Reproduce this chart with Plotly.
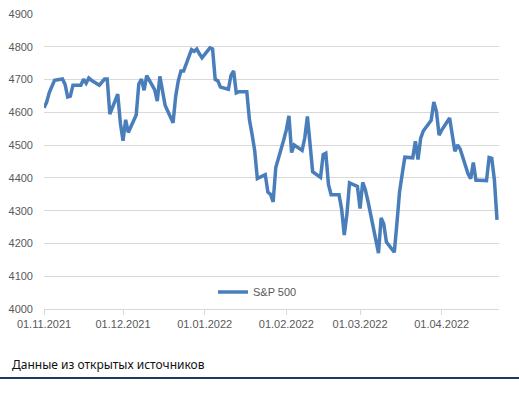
import pandas as pd
import plotly.graph_objects as go

# Trading weekdays from 01.11.2021 to 22.04.2022 (holidays carry the previous close)
start_date = "2021-11-01"
end_date = "2022-04-22"
dates = pd.bdate_range(start_date, end_date)

nov = [4613.67, 4630.65, 4660.57, 4680.06, 4697.53,
       4701.70, 4685.25, 4646.71, 4649.27, 4682.85,
       4682.80, 4700.90, 4688.67, 4704.54, 4697.96,
       4682.94, 4690.70, 4701.46, 4701.46, 4594.62,
       4655.27, 4567.00]
dec = [4513.04, 4577.10, 4538.43,
       4591.67, 4686.75, 4701.21, 4667.45, 4712.02,
       4668.97, 4634.09, 4709.85, 4668.67, 4620.64,
       4568.02, 4649.23, 4696.56, 4725.79, 4725.79,
       4791.19, 4786.35, 4793.06, 4778.73, 4766.18]
jan = [4796.56, 4793.54, 4700.58, 4696.05, 4677.03,
       4670.29, 4713.07, 4726.35, 4659.03, 4662.85,
       4662.85, 4577.11, 4532.76, 4482.73, 4397.94,
       4410.13, 4356.45, 4349.93, 4326.51, 4431.85,
       4515.55]
feb = [4546.54, 4589.38, 4477.44, 4500.53,
       4483.87, 4521.54, 4587.18, 4504.08, 4418.64,
       4401.67, 4471.07, 4475.01, 4380.26, 4348.87,
       4348.87, 4304.76, 4225.50, 4288.70, 4384.65,
       4373.94]
mar = [4306.26, 4386.54, 4363.49, 4328.87,
       4201.09, 4170.70, 4277.88, 4259.52, 4204.31,
       4173.11, 4262.45, 4357.86, 4411.67, 4463.12,
       4461.18, 4511.61, 4456.24, 4520.16, 4543.06,
       4575.52, 4631.60, 4602.45, 4530.41]
apr = [4545.86,
       4582.64, 4525.12, 4481.15, 4500.21, 4488.28,
       4412.53, 4397.45, 4446.59, 4392.59, 4392.59,
       4391.69, 4462.21, 4459.45, 4393.66, 4271.78]
sp500 = nov + dec + jan + feb + mar + apr

tick_dates = ["2021-11-01", "2021-12-01", "2022-01-01", "2022-02-01", "2022-03-01", "2022-04-01"]
tick_labels = ["01.11.2021", "01.12.2021", "01.01.2022", "01.02.2022", "01.03.2022", "01.04.2022"]
y_ticks = [4000, 4100, 4200, 4300, 4400, 4500, 4600, 4700, 4800, 4900]

series_name = "S&P 500"
source_text = "Данные из открытых источников"

W, H = 519, 396
ML, MR, MT, MB = 44, 20, 14, 87
PW = W - ML - MR
PH = H - MT - MB

fig = go.Figure()
fig.add_trace(go.Scatter(
    x=dates, y=sp500, mode="lines", name=series_name,
    line=dict(color="#4A7EBB", width=3.5),
    hoverinfo="skip",
))

grey_txt = "#595959"
fig.update_layout(
    width=W, height=H,
    margin=dict(l=ML, r=MR, t=MT, b=MB, pad=0, autoexpand=False),
    paper_bgcolor="white", plot_bgcolor="white",
    font=dict(family="Liberation Sans, Arial, sans-serif", size=11, color=grey_txt),
    showlegend=True,
    legend=dict(
        orientation="h", x=(213 - ML) / PW, y=(MT + PH - 292) / PH,
        xanchor="left", yanchor="middle",
        bgcolor="rgba(0,0,0,0)", font=dict(size=11, color=grey_txt),
    ),
    xaxis=dict(
        type="date", automargin=False,
        range=["2021-11-01", "2022-04-22 18:00"],
        tickvals=tick_dates, ticktext=tick_labels,
        showgrid=False, zeroline=False,
        showline=True, linecolor="#D9D9D9", linewidth=1,
        ticks="outside", ticklen=5, tickcolor="#D9D9D9",
        tickfont=dict(size=11, color=grey_txt),
    ),
    yaxis=dict(
        range=[4000, 4900], tickvals=y_ticks, automargin=False,
        showgrid=True, gridcolor="#D9D9D9", gridwidth=1,
        zeroline=False, showline=False,
        ticks="", ticklabelstandoff=10,
        tickfont=dict(size=11, color=grey_txt),
    ),
)

fig.add_annotation(
    text=source_text, xref="paper", yref="paper",
    x=(10 - ML) / PW, y=(MT + PH - 364) / PH,
    xanchor="left", yanchor="middle", showarrow=False,
    font=dict(family="Noto Sans, Open Sans, sans-serif", size=12, color="#111111"),
)
fig.add_shape(
    type="line", xref="paper", yref="paper",
    x0=(0 - ML) / PW, x1=(W - ML) / PW,
    y0=(MT + PH - 378) / PH, y1=(MT + PH - 378) / PH,
    line=dict(color="#1F3864", width=2),
)

fig.write_html("out.html", config={"displayModeBar": False},
               post_script="document.body.style.margin='0';")
